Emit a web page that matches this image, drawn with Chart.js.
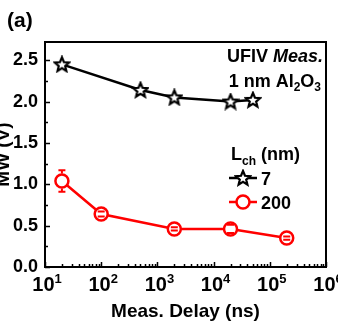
<!DOCTYPE html>
<html>
<head>
<meta charset="utf-8">
<script src="https://cdn.jsdelivr.net/npm/chart.js@4.4.1/dist/chart.umd.min.js"></script>
<style>
  html, body { margin: 0; padding: 0; background: #fff; }
  #wrap { width: 338px; height: 325px; }
</style>
</head>
<body>
<div id="wrap"><canvas id="mwChart" width="338" height="325"></canvas></div>
<script>
// data
const delays7 = [20, 500, 2000, 20000, 50000];
const mw7 = [2.45, 2.14, 2.05, 2.00, 2.02];
const delays200 = [20, 100, 2000, 20000, 200000];
const mw200 = [1.04, 0.64, 0.46, 0.46, 0.35];
const err200 = [0.13, 0.03, 0.02, 0.05, 0.02];
const decadeExps = [1, 2, 3, 4, 5, 6];
const yTicks = [0, 0.5, 1.0, 1.5, 2.0, 2.5];

const FONT = '"Liberation Sans", Arial, sans-serif';

// hollow five-point star marker
function makeStar(size) {
    const c = document.createElement('canvas');
    c.width = size; c.height = size;
    const g = c.getContext('2d');
    const cx = size / 2, cy = size / 2 + 0.5, ro = size / 2 - 1.5, ri = ro * 0.45;
    g.beginPath();
    for (let i = 0; i < 10; i++) {
        const r = i % 2 === 0 ? ro : ri;
        const a = -Math.PI / 2 + i * Math.PI / 5;
        const px = cx + r * Math.cos(a), py = cy + r * Math.sin(a);
        if (i === 0) g.moveTo(px, py); else g.lineTo(px, py);
    }
    g.closePath();
    g.fillStyle = '#fff';
    g.fill();
    g.lineWidth = 2.2;
    g.lineJoin = 'miter';
    g.strokeStyle = '#000';
    g.stroke();
    return c;
}
const starImg = makeStar(18);

// draws a row of text pieces [text, size, italic, dy]
function drawRuns(ctx, runs, x, y, align) {
    let total = 0;
    runs.forEach(r => {
        ctx.font = (r[2] ? 'italic ' : '') + 'bold ' + r[1] + 'px ' + FONT;
        r.w = ctx.measureText(r[0]).width;
        total += r.w;
    });
    let cx = align === 'right' ? x - total : align === 'center' ? x - total / 2 : x;
    runs.forEach(r => {
        ctx.font = (r[2] ? 'italic ' : '') + 'bold ' + r[1] + 'px ' + FONT;
        ctx.textAlign = 'left';
        ctx.textBaseline = 'alphabetic';
        ctx.fillText(r[0], cx, y + (r[3] || 0));
        cx += r.w;
    });
}

const decorPlugin = {
    id: 'decor',
    afterDatasetsDraw(chart) {
        const ctx = chart.ctx;
        const a = chart.chartArea;
        const xs = chart.scales.x, ys = chart.scales.y;
        ctx.save();
        ctx.fillStyle = '#000';

        // error bars for 200 nm
        ctx.strokeStyle = '#f00';
        ctx.lineWidth = 2;
        mw200.forEach((v, i) => {
            const px = xs.getPixelForValue(delays200[i]);
            const top = ys.getPixelForValue(v + err200[i]);
            const bot = ys.getPixelForValue(v - err200[i]);
            const py = ys.getPixelForValue(v);
            const r = 7.5;
            ctx.beginPath();
            if (top < py - r) { ctx.moveTo(px, py - r); ctx.lineTo(px, top); }
            if (bot > py + r) { ctx.moveTo(px, py + r); ctx.lineTo(px, bot); }
            ctx.moveTo(px - 3.5, top); ctx.lineTo(px + 3.5, top);
            ctx.moveTo(px - 3.5, bot); ctx.lineTo(px + 3.5, bot);
            ctx.stroke();
        });

        // frame
        ctx.strokeStyle = '#000';
        ctx.lineWidth = 2;
        ctx.strokeRect(a.left, a.top, a.right - a.left, a.bottom - a.top);

        // inward ticks
        ctx.lineWidth = 1.5;
        ctx.beginPath();
        for (let v = 0; v <= 2.7; v += 0.25) {
            const py = Math.round(ys.getPixelForValue(v)) + 0.5;
            const len = Math.abs(v * 2 - Math.round(v * 2)) < 1e-6 ? 5 : 3;
            ctx.moveTo(a.left, py); ctx.lineTo(a.left + len, py);
        }
        decadeExps.forEach(e => {
            const base = Math.pow(10, e);
            const px = Math.round(xs.getPixelForValue(base)) + 0.5;
            ctx.moveTo(px, a.bottom); ctx.lineTo(px, a.bottom - 5);
            if (e < 6) {
                for (let k = 2; k <= 9; k++) {
                    const mx = Math.round(xs.getPixelForValue(base * k)) + 0.5;
                    ctx.moveTo(mx, a.bottom); ctx.lineTo(mx, a.bottom - 3);
                }
            }
        });
        ctx.stroke();

        // x tick labels 10^n
        decadeExps.forEach(e => {
            const px = xs.getPixelForValue(Math.pow(10, e));
            drawRuns(ctx, [['10', 20], [String(e), 13, false, -8]], px + 2, 291, 'center');
        });

        // axis titles
        drawRuns(ctx, [['Meas. Delay (ns)', 19]], (a.left + a.right) / 2, 317, 'center');
        ctx.save();
        ctx.translate(9, (a.top + a.bottom) / 2);
        ctx.rotate(-Math.PI / 2);
        drawRuns(ctx, [['MW (V)', 19]], 0, 0, 'center');
        ctx.restore();

        // panel label and annotations
        drawRuns(ctx, [['(a)', 21]], 7, 27, 'left');
        drawRuns(ctx, [['UFIV ', 18], ['Meas.', 18, true]], 323, 62, 'right');
        drawRuns(ctx, [['1 nm Al', 18], ['2', 12, false, 4], ['O', 18], ['3', 12, false, 4]], 321, 87, 'right');

        // legend
        drawRuns(ctx, [['L', 18], ['ch', 12, false, 5], [' (nm)', 18]], 231, 160, 'left');
        const ds = chart.data.datasets;
        const rows = [[ds[0], 178, '7'], [ds[1], 202, '200']];
        rows.forEach(([d, y, label]) => {
            ctx.strokeStyle = d.borderColor;
            ctx.lineWidth = d.borderWidth;
            ctx.beginPath();
            ctx.moveTo(229, y); ctx.lineTo(257, y);
            ctx.stroke();
            if (d.pointStyle === starImg) {
                ctx.drawImage(starImg, 243 - starImg.width / 2, y - starImg.height / 2);
            } else {
                ctx.beginPath();
                ctx.arc(243, y, d.pointRadius, 0, Math.PI * 2);
                ctx.fillStyle = '#fff';
                ctx.fill();
                ctx.lineWidth = d.pointBorderWidth;
                ctx.stroke();
            }
            ctx.fillStyle = '#000';
            drawRuns(ctx, [[label, 18]], 261, y + 7, 'left');
        });
        ctx.restore();
    }
};

new Chart(document.getElementById('mwChart').getContext('2d'), {
    type: 'line',
    data: {
        datasets: [{
            label: '7',
            data: delays7.map((x, i) => ({ x: x, y: mw7[i] })),
            borderColor: '#000',
            borderWidth: 2.5,
            pointStyle: starImg,
            pointRadius: 9,
            backgroundColor: '#fff',
            tension: 0
        }, {
            label: '200',
            data: delays200.map((x, i) => ({ x: x, y: mw200[i] })),
            borderColor: '#f00',
            borderWidth: 2.5,
            pointStyle: 'circle',
            pointRadius: 6.5,
            pointBorderWidth: 2.5,
            pointBackgroundColor: '#fff',
            backgroundColor: '#fff',
            tension: 0
        }]
    },
    options: {
        responsive: false,
        animation: false,
        layout: { padding: { top: 42, right: 12, left: 0, bottom: 0 } },
        plugins: { legend: { display: false }, tooltip: { enabled: false } },
        scales: {
            x: {
                type: 'logarithmic',
                min: 10,
                max: 1e6,
                grid: { display: false },
                border: { display: false },
                ticks: { display: false },
                afterFit(s) { s.height = 58; }
            },
            y: {
                min: 0,
                max: 2.72,
                afterBuildTicks(s) { s.ticks = yTicks.map(v => ({ value: v })); },
                grid: { display: false, drawTicks: false },
                border: { display: false },
                ticks: {
                    color: '#000',
                    padding: 7,
                    font: { family: FONT, size: 18, weight: 'bold' },
                    callback: v => v.toFixed(1)
                },
                afterFit(s) { s.width = 45; }
            }
        }
    },
    plugins: [decorPlugin]
});
</script>
</body>
</html>
